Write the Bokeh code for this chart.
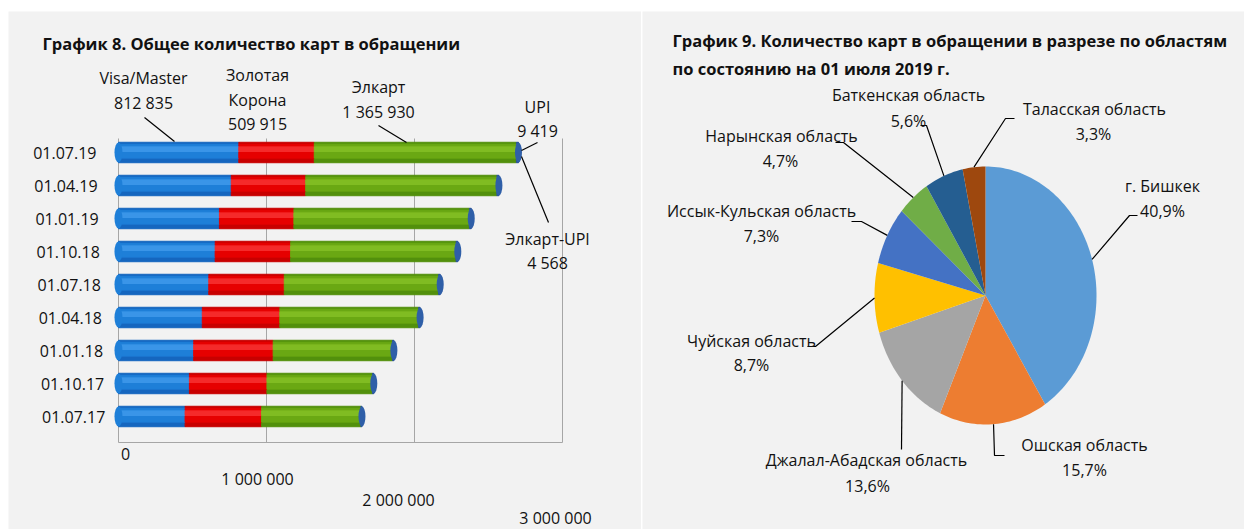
import math
from bokeh.plotting import figure
from bokeh.models import Range1d, ColumnDataSource
from bokeh.transform import dodge
from bokeh.layouts import row
from bokeh.embed import file_html
from bokeh.resources import INLINE
from bokeh.core.properties import value

# ---------------- data ----------------
dates = ["01.07.19", "01.04.19", "01.01.19", "01.10.18", "01.07.18",
         "01.04.18", "01.01.18", "01.10.17", "01.07.17"]
visa_master = [812835, 762000, 682000, 653000, 610000, 566000, 508000, 479000, 450000]
zolotaya_korona = [509915, 503000, 503000, 510000, 510000, 524000, 537000, 524000, 517000]
elkart = [1365930, 1292000, 1186000, 1118000, 1043000, 938000, 807000, 714000, 671000]
upi = [9419, 8900, 8100, 7500, 6800, 6100, 5300, 4600, 4000]
elkart_upi = [4568, 4400, 4200, 4000, 3800, 3600, 3400, 3200, 3000]
series_names = ["Visa/Master", "Золотая Корона", "Элкарт", "UPI", "Элкарт-UPI"]
x_ticks = [0, 1000000, 2000000, 3000000]

regions = ["г. Бишкек", "Ошская область", "Джалал-Абадская область", "Чуйская область",
           "Иссык-Кульская область", "Нарынская область", "Баткенская область",
           "Таласская область"]
shares = [40.9, 15.7, 13.6, 8.7, 7.3, 4.7, 5.6, 3.3]

title_left = "График 8. Общее  количество карт в обращении"
title_right_1 = "График 9. Количество карт в обращении  в разрезе  по областям"
title_right_2 = "по состоянию на 01 июля 2019 г."

# ---------------- styles ----------------
FONT = "Open Sans"
BG = "#F2F2F2"
TXT = "#111111"
base_colors = ["#1566BF", "#C80000", "#52900C", "#2E5597", "#2E5597"]
mid_colors = ["#1E7FD8", "#E60000", "#6AA813", "#3563AE", "#3563AE"]
hi_colors = ["#3A95E8", "#F52A2A", "#80BC22", "#4A78C4", "#4A78C4"]
pie_colors = ["#5B9BD5", "#ED7D31", "#A5A5A5", "#FFC000", "#4472C4",
              "#70AD47", "#255E91", "#9E480E"]


def fmt(v):
    return f"{v:,}".replace(",", " ")


# page geometry (the page is drawn from its top-left corner)
H = 529
PAD_TOP = 11
LW = 641
PAD_LEFT = 8
RW = 602

# ---------------- left chart ----------------
ZERO_X = 118          # page x of value 0
PXM = 148e-6          # px per card
ROW = 33.0            # px per row
BOTTOM_ROW_Y = 416    # page y of lowest row centre


def lx(sx):
    return (sx - ZERO_X) / PXM


def ly(sy):
    return (BOTTOM_ROW_Y - sy) / ROW


n = len(dates)
ypos = [n - 1 - i for i in range(n)]
keys = ["vm", "zk", "ek", "upi", "eupi"]
totals = [a + b + c + d + e for a, b, c, d, e in
          zip(visa_master, zolotaya_korona, elkart, upi, elkart_upi)]
src = ColumnDataSource(dict(date=dates, y=ypos, vm=visa_master, zk=zolotaya_korona,
                            ek=elkart, upi=upi, eupi=elkart_upi, total=totals))

p = figure(width=LW, height=H, x_range=Range1d(lx(PAD_LEFT), lx(LW)),
           y_range=Range1d(ly(H), ly(PAD_TOP)),
           x_axis_location=None, y_axis_location=None,
           min_border_left=PAD_LEFT, min_border_top=PAD_TOP,
           min_border_right=0, min_border_bottom=0,
           output_backend="svg", toolbar_location=None,
           background_fill_color=BG, border_fill_color="white", outline_line_color=None)
p.grid.visible = False

# back-wall grid lines and floor
g_top, g_bot = ly(138), ly(442)
p.segment(x0=x_ticks, y0=[g_bot] * len(x_ticks), x1=x_ticks, y1=[g_top] * len(x_ticks),
          line_color="#A6A6A6", line_width=1)
p.segment(x0=[x_ticks[0]], y0=[g_bot], x1=[x_ticks[-1]], y1=[g_bot],
          line_color="#A6A6A6", line_width=1)

# cylinders
p.hbar_stack(keys, y="y", height=0.62, color=base_colors, source=src)
p.hbar_stack(keys, y=dodge("y", 0.04), height=0.42, color=mid_colors, source=src)
p.hbar_stack(keys, y=dodge("y", 0.1), height=0.14, color=hi_colors, source=src)
p.ellipse(x=0, y="y", width=8, height=20, width_units="screen",
          height_units="screen", fill_color=mid_colors[0], line_color=None, source=src)
p.ellipse(x="total", y="y", width=7, height=20, width_units="screen",
          height_units="screen", fill_color="#2F5FA8", line_color=None, source=src)

# category labels (right-aligned, drifting slightly right like the perspective)
p.text(x=[lx(96 + 1.1 * i) for i in range(n)], y=ypos, text=dates,
       text_align="right", text_baseline="middle", text_font=value(FONT),
       text_font_size="16px", text_color=TXT)

# value-axis labels on the sloping floor
tick_text = [fmt(t) for t in x_ticks]
p.text(x=x_ticks, y=[ly(453), ly(478), ly(499), ly(517)], text=tick_text,
       x_offset=[7, -9, -16, -7], text_align="center", text_baseline="middle",
       text_font=value(FONT), text_font_size="16px", text_color=TXT)

# title
p.text(x=[lx(42)], y=[ly(43)], text=[title_left], text_align="left",
       text_baseline="middle", text_font=value(FONT), text_font_size="16.5px",
       text_font_style="bold", text_color=TXT)

# series annotations for the latest date
top_labels = [
    ([series_names[0], fmt(visa_master[0])], 143, [77, 102]),
    (["Золотая", "Корона", fmt(zolotaya_korona[0])], 257, [74, 99, 123]),
    ([series_names[2], fmt(elkart[0])], 378, [86, 111]),
    ([series_names[3], fmt(upi[0])], 537, [106, 130]),
    ([series_names[4], fmt(elkart_upi[0])], 547, [238, 262]),
]
ax_, ay_, at_ = [], [], []
for lines, sx, sys_ in top_labels:
    for t, sy in zip(lines, sys_):
        ax_.append(lx(sx))
        ay_.append(ly(sy))
        at_.append(t)
p.text(x=ax_, y=ay_, text=at_, text_align="center", text_baseline="middle",
       text_font=value(FONT), text_font_size="16px", text_color=TXT)

leaders = [(144, 117, 174, 141), (378, 125, 406, 142),
           (537, 142, 521, 150), (521, 156, 548, 222)]
p.segment(x0=[lx(a[0]) for a in leaders], y0=[ly(a[1]) for a in leaders],
          x1=[lx(a[2]) for a in leaders], y1=[ly(a[3]) for a in leaders],
          line_color="#000000", line_width=1.2)

# ---------------- right chart (pie) ----------------
CX, CY, RX, RY = 985, 295, 111, 129
LEFT_R = LW + 1


def px(sx):
    return (sx - CX) / RX


def py(sy):
    return (CY - sy) / RY


q = figure(width=RW, height=H,
           x_range=Range1d(px(LEFT_R), px(LEFT_R + RW)),
           y_range=Range1d(py(H), py(PAD_TOP)),
           x_axis_location=None, y_axis_location=None,
           min_border_left=0, min_border_right=0, min_border_bottom=0,
           min_border_top=PAD_TOP,
           output_backend="svg", toolbar_location=None,
           background_fill_color=BG, border_fill_color="white", outline_line_color=None)
q.grid.visible = False

total_share = sum(shares)
xs, ys, mids = [], [], []
cum = 0.0
for s in shares:
    a0 = math.pi / 2 - 2 * math.pi * cum / total_share
    a1 = math.pi / 2 - 2 * math.pi * (cum + s) / total_share
    steps = max(8, int(abs(a1 - a0) / (2 * math.pi) * 240))
    angs = [a0 + (a1 - a0) * k / steps for k in range(steps + 1)]
    xs.append([0.0] + [math.cos(a) for a in angs])
    ys.append([0.0] + [math.sin(a) for a in angs])
    mids.append((a0 + a1) / 2)
    cum += s
q.patches(xs, ys, fill_color=pie_colors, line_color=None)

# label layout: name centre, percent centre, leader elbow, leader end (page px)
pie_layout = [
    ((1162, 185), (1162, 210), (1129, 215), (1137, 215)),
    ((1084, 444), (1084, 469), (994, 455), (1004, 455)),
    ((866, 459), (867, 485), (901, 449), (901, 449)),
    ((751, 340), (751, 364), (815, 346), (807, 346)),
    ((761, 210), (761, 235), (861, 221), (851, 221)),
    ((781, 135), (780, 160), (843, 142), (835, 142)),
    ((908, 94), (908, 120), (926, 125), (920, 125)),
    ((1094, 108), (1093, 133), (1005, 118), (1014, 118)),
]
lab_x, lab_y, lab_t = [], [], []
lxs, lys = [], []
for name, s, mid, (n_pos, p_pos, elbow, end) in zip(regions, shares, mids, pie_layout):
    lab_x += [px(n_pos[0]), px(p_pos[0])]
    lab_y += [py(n_pos[1]), py(p_pos[1])]
    lab_t += [name, f"{s:.1f}%".replace(".", ",")]
    lxs.append([math.cos(mid), px(elbow[0]), px(end[0])])
    lys.append([math.sin(mid), py(elbow[1]), py(end[1])])
q.multi_line(lxs, lys, line_color="#000000", line_width=1.2)
q.text(x=lab_x, y=lab_y, text=lab_t, text_align="center", text_baseline="middle",
       text_font=value(FONT), text_font_size="16px", text_color=TXT)
q.text(x=[px(672), px(672)], y=[py(40), py(68)], text=[title_right_1, title_right_2],
       text_align="left", text_baseline="middle", text_font=value(FONT),
       text_font_size="16.5px", text_font_style="bold", text_color=TXT)

layout = row(p, q, spacing=1)
open("out.html", "w").write(file_html(layout, INLINE))
